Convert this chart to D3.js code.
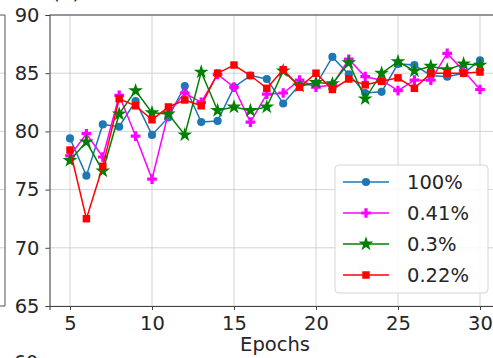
<!DOCTYPE html>
<head>
    <meta charset="utf-8">
    <script src="https://d3js.org/d3.v7.min.js"></script>
    <style>
      body { margin: 0; background: #fff; }
      text { font-family: "DejaVu Sans", sans-serif; fill: #262626; }
    </style>
</head>

<body>
<div id="chart"></div>

<script>
  var epochs = [5, 6, 7, 8, 9, 10, 11, 12, 13, 14, 15, 16, 17, 18, 19, 20, 21, 22, 23, 24, 25, 26, 27, 28, 29, 30];
  var acc100 = [79.4, 76.2, 80.6, 80.4, 82.6, 79.7, 81.2, 83.9, 80.8, 80.9, 83.8, 84.8, 84.5, 82.4, 84.0, 84.0, 86.4, 84.9, 83.3, 83.4, 85.8, 85.7, 84.8, 84.7, 85.0, 86.1];
  var acc041 = [77.9, 79.8, 77.8, 83.1, 79.6, 75.9, 81.6, 83.3, 82.5, 84.9, 83.8, 80.8, 83.2, 83.3, 84.4, 83.8, 84.0, 86.2, 84.7, 84.4, 83.5, 84.4, 84.4, 86.7, 85.2, 83.6];
  var acc03 = [77.5, 79.1, 76.6, 81.5, 83.5, 81.6, 81.5, 79.7, 85.1, 81.8, 82.1, 81.8, 82.1, 85.2, 83.9, 84.2, 84.1, 85.9, 82.8, 85.0, 86.0, 85.2, 85.6, 85.3, 85.8, 85.7];
  var acc022 = [78.4, 72.5, 77.0, 82.8, 82.2, 81.0, 82.1, 82.7, 82.2, 85.0, 85.7, 84.8, 83.7, 85.3, 83.8, 85.0, 83.6, 84.5, 84.0, 84.3, 84.6, 83.7, 85.0, 85.0, 85.0, 85.1];
  var seriesNames = ["100%", "0.41%", "0.3%", "0.22%"];
  var xTicks = [5, 10, 15, 20, 25, 30];
  var yTicks = [65, 70, 75, 80, 85, 90];

  var width = 493;
  var height = 358;

  var svg = d3.select("#chart").append("svg")
      .attr("width", width)
      .attr("height", height);

  var x = d3.scaleLinear().domain([3.75, 31.25]).range([49.5, 500.5]);
  var y = d3.scaleLinear().domain([65, 90]).range([306, 15]);

  var series = [
    {name: seriesNames[0], values: acc100, color: "#1f77b4", symbol: d3.symbolCircle, size: 52},
    {name: seriesNames[1], values: acc041, color: "#ff00ff", symbol: d3.symbolCross, size: 52},
    {name: seriesNames[2], values: acc03, color: "#008000", symbol: d3.symbolStar, size: 68},
    {name: seriesNames[3], values: acc022, color: "#ff0000", symbol: d3.symbolSquare, size: 56}
  ];

  //Edge of the neighbouring subplot, cut off by the crop
  var left = svg.append("g");
  yTicks.slice(1, 5).forEach(function(t) {
    left.append("line").attr("x1", 0).attr("x2", 5).attr("y1", y(t)).attr("y2", y(t))
      .attr("stroke", "#c8c8c8").attr("stroke-width", 0.8);
  });
  left.append("path")
    .attr("d", "M0," + y(90) + "H5V" + y(65) + "H0")
    .attr("fill", "none").attr("stroke", "#555").attr("stroke-width", 1);
  svg.append("text").attr("x", 52).attr("y", -1).style("font-size", "20px").text("(b)");
  svg.append("text").attr("x", 38).attr("y", 369).attr("text-anchor", "end")
    .style("font-size", "19px").text("60");

  //Grid
  var grid = svg.append("g");
  grid.selectAll(".gx").data(xTicks).enter().append("line")
    .attr("x1", function(d) { return x(d); }).attr("x2", function(d) { return x(d); })
    .attr("y1", y(65)).attr("y2", y(90))
    .attr("stroke", "#c8c8c8").attr("stroke-width", 0.8);
  grid.selectAll(".gy").data(yTicks).enter().append("line")
    .attr("x1", x(3.75)).attr("x2", x(31.25))
    .attr("y1", function(d) { return y(d); }).attr("y2", function(d) { return y(d); })
    .attr("stroke", "#c8c8c8").attr("stroke-width", 0.8);

  //Axes
  var xAxis = svg.append("g")
    .attr("transform", "translate(0," + y(65) + ")")
    .call(d3.axisBottom(x).tickValues(xTicks).tickSize(4).tickPadding(6).tickFormat(d3.format("d")));
  var yAxis = svg.append("g")
    .attr("transform", "translate(" + x(3.75) + ",0)")
    .call(d3.axisLeft(y).tickValues(yTicks).tickSize(4).tickPadding(6).tickFormat(d3.format("d")));
  [xAxis, yAxis].forEach(function(a) {
    a.select(".domain").attr("stroke", "#444").attr("stroke-width", 1.1);
    a.selectAll(".tick line").attr("stroke", "#444");
    a.selectAll(".tick text").style("font-size", "19.5px").attr("fill", "#262626")
      .style("font-family", "DejaVu Sans, sans-serif");
  });
  svg.append("line")
    .attr("x1", x(3.75)).attr("x2", x(31.25)).attr("y1", y(90)).attr("y2", y(90))
    .attr("stroke", "#444").attr("stroke-width", 1.1);

  svg.append("text")
    .attr("x", (x(3.75) + x(31.25)) / 2).attr("y", 351)
    .attr("text-anchor", "middle")
    .style("font-size", "19.5px")
    .text("Epochs");

  //Lines and markers
  var line = d3.line()
    .x(function(d, i) { return x(epochs[i]); })
    .y(function(d) { return y(d); });

  series.forEach(function(s) {
    var g = svg.append("g");
    g.append("path")
      .attr("d", line(s.values))
      .attr("fill", "none")
      .attr("stroke", s.color)
      .attr("stroke-width", 1.5);
    g.selectAll("path.m").data(s.values).enter().append("path")
      .attr("class", "m")
      .attr("d", d3.symbol().type(s.symbol).size(s.size))
      .attr("transform", function(d, i) { return "translate(" + x(epochs[i]) + "," + y(d) + ")"; })
      .attr("fill", s.color);
  });

  //Legend
  var legend = svg.append("g");
  legend.append("rect")
    .attr("x", 335).attr("y", 165).attr("width", 153).attr("height", 128).attr("rx", 4)
    .attr("fill", "#fff").attr("fill-opacity", 0.85)
    .attr("stroke", "#d6d6d6").attr("stroke-width", 1);
  var item = legend.selectAll(".item").data(series).enter().append("g")
    .attr("transform", function(d, i) { return "translate(0," + (182 + i * 31) + ")"; });
  item.append("line")
    .attr("x1", 343).attr("x2", 389)
    .attr("stroke", function(d) { return d.color; }).attr("stroke-width", 1.5);
  item.append("path")
    .attr("d", function(d) { return d3.symbol().type(d.symbol).size(d.size)(); })
    .attr("transform", "translate(366,0)")
    .attr("fill", function(d) { return d.color; });
  item.append("text")
    .attr("x", 407).attr("dy", "0.36em")
    .style("font-size", "19.5px")
    .text(function(d) { return d.name; });
</script>
</body>
</html>
